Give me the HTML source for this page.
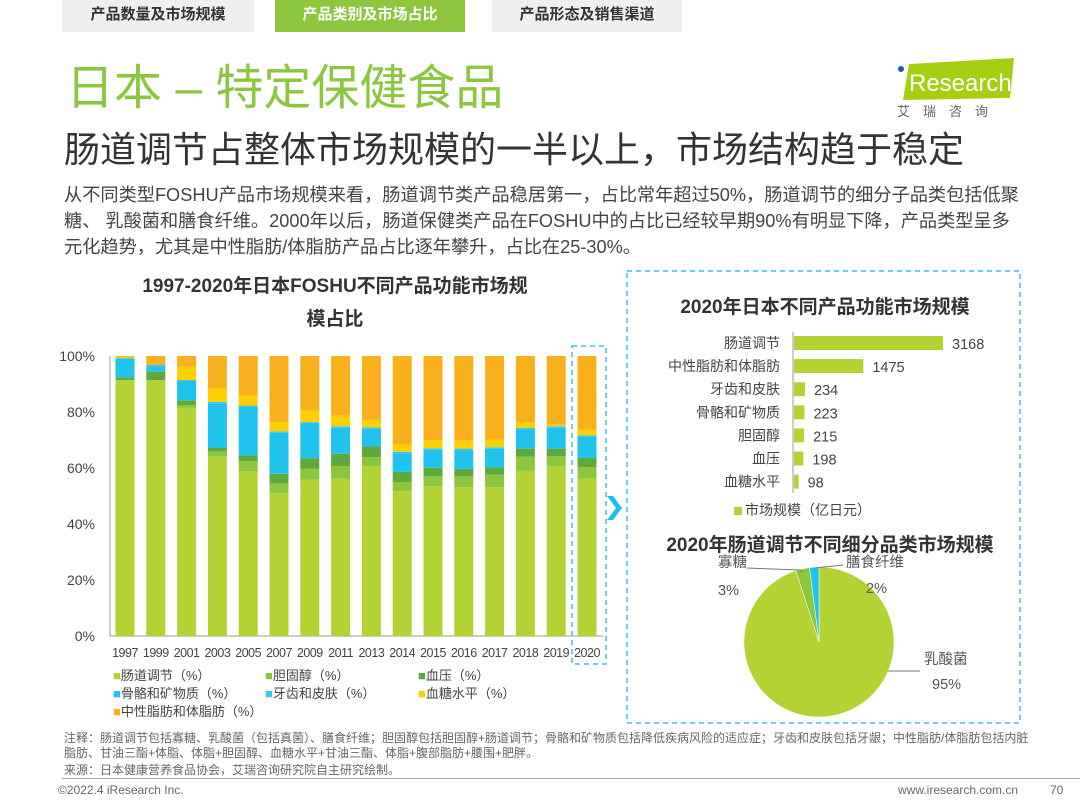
<!DOCTYPE html>
<html><head><meta charset="utf-8"><style>
body{margin:0;width:1080px;height:810px;background:#fff;font-family:"Liberation Sans","Noto Sans CJK SC",sans-serif;position:relative;overflow:hidden;color:#444}
.abs{position:absolute}
.tab{position:absolute;top:0;height:32px;line-height:30px;text-align:center;font-size:15px;font-weight:bold;color:#333;background:#efefef}
</style></head><body>
<div class="tab" style="left:62px;width:192px">产品数量及市场规模</div>
<div class="tab" style="left:275px;width:190px;background:#8cc63f;color:#fff">产品类别及市场占比</div>
<div class="tab" style="left:492px;width:190px">产品形态及销售渠道</div>
<div class="abs" style="left:66px;top:59px;font-size:48px;color:#8cc63f;line-height:60px">日本 – 特定保健食品</div>
<div class="abs" style="left:895px;top:58px;width:120px;height:60px">
<svg width="120" height="60"><polygon points="14,6 119,0 115,40 8,42" fill="#a6cf12"/><circle cx="6" cy="11" r="3" fill="#1a5ba8"/><text x="14" y="33" font-size="24" fill="#fff" font-family="Liberation Sans">Research</text><text x="2" y="58" font-size="13" fill="#666" letter-spacing="13">艾瑞咨询</text></svg></div>
<div class="abs" style="left:64px;top:127px;font-size:36px;color:#333;line-height:46px;white-space:nowrap">肠道调节占整体市场规模的一半以上，市场结构趋于稳定</div>
<div class="abs" style="left:64px;top:182px;font-size:18.2px;line-height:26px;color:#444;white-space:nowrap">从不同类型FOSHU产品市场规模来看，肠道调节类产品稳居第一，占比常年超过50%，肠道调节的细分子品类包括低聚<br>糖、 乳酸菌和膳食纤维。2000年以后，肠道保健类产品在FOSHU中的占比已经较早期90%有明显下降，产品类型呈多<br>元化趋势，尤其是中性脂肪/体脂肪产品占比逐年攀升，占比在25-30%。</div>
<div class="abs" style="left:100px;top:270px;width:470px;text-align:center;font-size:19px;font-weight:bold;color:#333;line-height:33px">1997-2020年日本FOSHU不同产品功能市场规<br>模占比</div>
<svg class="abs" style="left:0;top:0" width="1080" height="810" id="main">
<rect x="572" y="346" width="34" height="318" fill="none" stroke="#3cc0e8" stroke-width="1.5" stroke-dasharray="5,4"/>
<rect x="627" y="271" width="393" height="452" fill="none" stroke="#3cc0e8" stroke-width="1.5" stroke-dasharray="5,4"/>
<polygon points="607,496 616,508 607,520 613,520 622,508 613,496" fill="#1fbde9"/>
<g id="bars"></g><g id="hbars"></g><g id="pie"></g>
</svg>
<div class="abs" style="left:640px;top:292px;width:370px;text-align:center;font-size:19px;font-weight:bold;color:#333">2020年日本不同产品功能市场规模</div>
<div class="abs" style="left:734px;top:500px;font-size:14px;color:#444"><span style="display:inline-block;width:8px;height:8px;background:#b3d335;margin-right:3px"></span>市场规模（亿日元）</div>
<div class="abs" style="left:640px;top:530px;width:380px;text-align:center;font-size:19px;font-weight:bold;color:#333">2020年肠道调节不同细分品类市场规模</div>
<div class="abs" style="left:113px;top:667px;font-size:13px;color:#444;line-height:18px;width:480px">
<div style="position:absolute;left:0;top:0;white-space:nowrap"><span style="color:#b3d335">■</span>肠道调节（%）</div>
<div style="position:absolute;left:152px;top:0;white-space:nowrap"><span style="color:#8cc63f">■</span>胆固醇（%）</div>
<div style="position:absolute;left:305px;top:0;white-space:nowrap"><span style="color:#5fa83a">■</span>血压（%）</div>
<div style="position:absolute;left:0;top:18px;white-space:nowrap"><span style="color:#1fc3ee">■</span>骨骼和矿物质（%）</div>
<div style="position:absolute;left:152px;top:18px;white-space:nowrap"><span style="color:#35c9f0">■</span>牙齿和皮肤（%）</div>
<div style="position:absolute;left:305px;top:18px;white-space:nowrap"><span style="color:#ffd000">■</span>血糖水平（%）</div>
<div style="position:absolute;left:0;top:36px;white-space:nowrap"><span style="color:#f8b11c">■</span>中性脂肪和体脂肪（%）</div>
</div>
<div class="abs" style="left:64px;top:731px;width:970px;font-size:12px;line-height:15px;color:#666">注释：肠道调节包括寡糖、乳酸菌（包括真菌）、膳食纤维；胆固醇包括胆固醇+肠道调节；骨骼和矿物质包括降低疾病风险的适应症；牙齿和皮肤包括牙龈；中性脂肪/体脂肪包括内脏脂肪、甘油三酯+体脂、体脂+胆固醇、血糖水平+甘油三酯、体脂+腹部脂肪+腰围+肥胖。<br><span style="line-height:19px">来源：日本健康营养食品协会，艾瑞咨询研究院自主研究绘制。</span></div>
<div class="abs" style="left:62px;top:778px;width:1018px;height:1px;background:#aaa"></div>
<div class="abs" style="left:58px;top:783px;font-size:12px;color:#666">©2022.4 iResearch Inc.</div>
<div class="abs" style="left:898px;top:783px;font-size:12px;color:#666">www.iresearch.com.cn</div>
<div class="abs" style="left:1050px;top:783px;font-size:12px;color:#666">70</div>
<script>
const years=['1997','1999','2001','2003','2005','2007','2009','2011','2013','2014','2015','2016','2017','2018','2019','2020'];
const gut=[91.4,91.4,81.6,64.2,58.8,51.1,55.8,56.2,60.6,51.7,53.5,53.1,53.1,59.1,60.6,56.2];
const chol=[0,0,0.8,1.8,3.6,3.3,3.9,4.4,3.3,3.3,3.6,3.9,4.5,4.9,3.6,4.1];
const bp=[1,3,1.8,1.2,2.1,3.5,3.8,4.5,3.8,3.6,3,2.7,2.6,2.9,2.7,3.3];
const bone=[6.8,2,7.2,16,17.3,14.7,12.4,9.3,6.3,6.7,6.5,6.7,6.7,7,7.5,7.5];
const teeth=[0,0.4,0,0.5,0.5,0.5,0.5,0.5,0.5,0.5,0.5,0.5,0.5,0.5,0.5,0.5];
const sugar=[0.5,0,4.8,4.8,3.6,3.3,4.1,3.8,2.7,2.6,2.9,2.9,2.7,2,0.6,2.1];
const fat=[0.3,3.2,3.8,11.6,14.1,23.6,19.5,21.3,22.8,31.6,30.1,30.2,29.9,23.6,24.5,26.3];
const yTicks=[0,20,40,60,80,100];
const hCats=['肠道调节','中性脂肪和体脂肪','牙齿和皮肤','骨骼和矿物质','胆固醇','血压','血糖水平'];
const hVals=[3168,1475,234,223,215,198,98];
const pieCats=['乳酸菌','寡糖','膳食纤维'];
const pieVals=[95,3,2];
const NS='http://www.w3.org/2000/svg';
function mk(p,t,a){const e=document.createElementNS(NS,t);for(const k in a)e.setAttribute(k,a[k]);p.appendChild(e);return e;}
const g=document.getElementById('bars');
const y0=636,ph=280,x0=125,step=30.8,bw=19;
const ys=v=>y0-v/100*ph, xs=i=>x0+i*step;
yTicks.forEach(t=>{const e=mk(g,'text',{x:95,y:ys(t)+5,'text-anchor':'end','font-size':14,fill:'#444'});e.textContent=t+'%';

});
mk(g,'line',{x1:110,y1:y0,x2:603,y2:y0,stroke:'#999','stroke-width':1});
mk(g,'line',{x1:110,y1:ys(100),x2:110,y2:y0,stroke:'#999','stroke-width':1});
const series=[gut,chol,bp,bone,teeth,sugar,fat];
const cols=['#b3d335','#8cc63f','#5fa83a','#1fc3ee','#35c9f0','#ffd000','#f8b11c'];
years.forEach((yr,i)=>{let acc=0;const tot=series.reduce((s,a)=>s+a[i],0);
series.forEach((s,j)=>{const v=s[i]/tot*100;const r=mk(g,'rect',{x:xs(i)-bw/2,y:ys(acc+v),width:bw,height:Math.max(0,ys(acc)-ys(acc+v)),fill:cols[j]});

acc+=v;});
const t=mk(g,'text',{x:xs(i),y:657,'text-anchor':'middle','font-size':12.5,fill:'#444','letter-spacing':'-0.5'});t.textContent=yr;

});
const h=document.getElementById('hbars');
const hx0=793,hmax=3168,hw=149,hy0=343,hstep=23.1;
const hs=v=>v/hmax*hw;
mk(h,'line',{x1:hx0,y1:332,x2:hx0,y2:493,stroke:'#999'});
hCats.forEach((c,i)=>{const cy=hy0+i*hstep;
const r=mk(h,'rect',{x:hx0+1,y:cy-7,width:hs(hVals[i]),height:14,fill:'#b3d335'});


const l=mk(h,'text',{x:780,y:cy+5,'text-anchor':'end','font-size':14,fill:'#444'});l.textContent=c;


const v=mk(h,'text',{x:hx0+hs(hVals[i])+10,y:cy+6,'font-size':14.5,fill:'#444'});v.textContent=hVals[i];

});
const p=document.getElementById('pie');
const cx=819,cy=642,R=75;const pc=['#b3d335','#8cc63f','#1fc3ee'];
const tot=pieVals.reduce((a,b)=>a+b,0);let a0=0;
pieVals.forEach((v,i)=>{const a1=a0+v/tot*2*Math.PI;
const P=a=>[cx+R*Math.sin(a),cy-R*Math.cos(a)];const s=P(a0),e=P(a1);
const path=mk(p,'path',{d:`M${cx},${cy}L${s[0]},${s[1]}A${R},${R} 0 ${a1-a0>Math.PI?1:0} 1 ${e[0]},${e[1]}Z`,fill:pc[i],stroke:'#fff','stroke-width':0.5});

a0=a1;});
mk(p,'polyline',{points:'747,568 800,570 802,572',fill:'none',stroke:'#777'});
mk(p,'polyline',{points:'815,568 843,565',fill:'none',stroke:'#777'});
mk(p,'polyline',{points:'888,671 920,671',fill:'none',stroke:'#777'});
[['寡糖',718,567],['3%',718,595],['膳食纤维',846,567],['2%',866,593],['乳酸菌',924,664],['95%',932,689]].forEach(d=>{const t=mk(p,'text',{x:d[1],y:d[2],'font-size':14.5,fill:'#555'});t.textContent=d[0];

});
</script>
</body></html>
